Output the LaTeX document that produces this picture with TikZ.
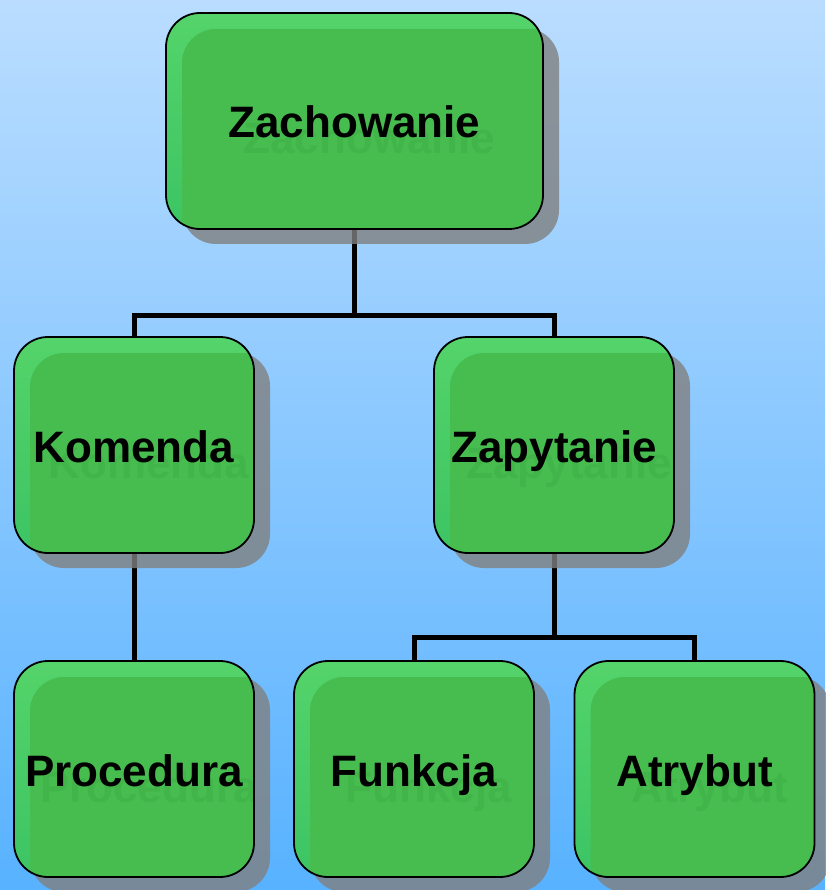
\documentclass[tikz,border=0pt]{standalone}
\usepackage{fontspec}
\setmainfont{Liberation Sans}
\usetikzlibrary{shadows}
\definecolor{bgtop}{RGB}{186,221,255}
\definecolor{bgbot}{RGB}{88,178,255}
\definecolor{lgtop}{RGB}{84,212,106}
\definecolor{lgbot}{RGB}{60,196,100}
\definecolor{maingreen}{RGB}{71,189,79}
\definecolor{txtshadow}{RGB}{65,181,73}
\definecolor{shadowgray}{RGB}{128,128,128}
\begin{document}
\begin{tikzpicture}[x=1pt,y=-1pt,
  lbl/.style={font=\fontsize{44}{50}\selectfont\bfseries, text height=34pt, text depth=0pt, inner sep=0pt},
  gbox/.style={lbl, draw=black, line width=1.8pt, rounded corners=34pt,
    top color=lgtop, bottom color=lgbot,
    minimum width=240pt, minimum height=216pt,
    drop shadow={shadow xshift=16pt, shadow yshift=-15pt, fill=shadowgray, opacity=0.8},
    path picture={
      \fill[maingreen, rounded corners=34pt]
        ([shift={(16pt,-16pt)}]path picture bounding box.north west)
        rectangle ([shift={(60pt,-60pt)}]path picture bounding box.south east);
      \node[lbl, text=txtshadow]
        at ([shift={(15pt,-16pt)}]path picture bounding box.center) {\shtext};
    }},
  conn/.style={draw=black, line width=5pt}]
\fill[top color=bgtop, bottom color=bgbot] (0,0) rectangle (825,890);
\useasboundingbox (0,0) rectangle (825,890);
% connectors
\coordinate (j1) at (354.5,315);
\coordinate (j2) at (554,637);
\coordinate (zb) at (354.5,229);
\coordinate (kt) at (134,337);
\coordinate (zt) at (554,337);
\coordinate (kb) at (134,553);
\coordinate (pt) at (134,661);
\coordinate (zpb) at (554,553);
\coordinate (ft) at (414,661);
\coordinate (at) at (694.5,661);
\draw[conn] (zb) -- (j1);
\draw[conn] (kt) |- (j1) -| (zt);
\draw[conn] (kb) -- (pt);
\draw[conn] (zpb) -- (j2);
\draw[conn] (ft) |- (j2) -| (at);
% boxes
\def\shtext{Zachowanie}
\node[gbox, minimum width=377pt] (zach) at (354.5,121) {Zachowanie};
\def\shtext{Komenda}
\node[gbox] (kom) at (134,445) {Komenda};
\def\shtext{Zapytanie}
\node[gbox] (zap) at (554,445) {Zapytanie};
\def\shtext{Procedura}
\node[gbox] (proc) at (134,769) {Procedura};
\def\shtext{Funkcja}
\node[gbox] (funk) at (414,769) {Funkcja};
\def\shtext{Atrybut}
\node[gbox] (atr) at (694.5,769) {Atrybut};
\end{tikzpicture}
\end{document}
